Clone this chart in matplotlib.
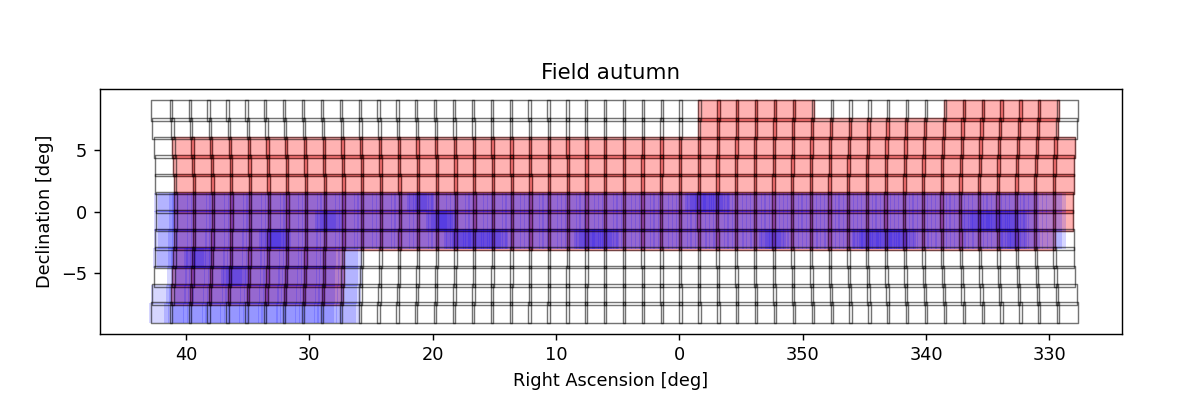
import matplotlib
matplotlib.use('Agg')
import matplotlib.pyplot as plt
import numpy as np
from matplotlib.patches import Rectangle
from matplotlib.collections import PatchCollection
from matplotlib.ticker import FuncFormatter

# --- Tile grid (RA unwrapped: negative = 360 - x) ---
ROW_DEC = [8.25, 6.75, 5.25, 3.75, 2.25, 0.75, -0.75, -2.25, -3.75, -5.25, -6.75, -8.25]
N_TILES = 49
GRID_RA0 = 5.25      # RA of the middle tile
TILE_STEP = 1.515    # on-sky spacing [deg]
TILE_SIZE = 1.70     # on-sky tile side [deg]

# red tiles: (row, first tile, last tile), tile 0 = highest RA
RED_RANGES = [
    (0, 29, 34), (0, 42, 47),
    (1, 29, 47),
    (2, 1, 48), (3, 1, 48), (4, 1, 48),
    (5, 1, 48), (6, 1, 48), (7, 1, 47),
    (8, 1, 9), (9, 1, 9), (10, 1, 9),
]

# blue visits per pointing, rows 5-7 (full width) and 8-11 (east end)
BLUE_COUNTS = {
    5: [2, 3, 3, 3, 3, 3, 3, 3, 3, 3, 3, 3, 3, 3, 5, 3, 3, 3, 3, 3, 3, 3, 3, 3, 3,
        3, 3, 3, 3, 5, 5, 3, 3, 3, 3, 3, 3, 3, 3, 3, 3, 3, 3, 3, 3, 3, 3, 3, 2],
    6: [2, 3, 3, 3, 3, 3, 3, 3, 3, 5, 3, 3, 3, 3, 3, 6, 3, 3, 3, 3, 3, 3, 3, 3, 3,
        3, 3, 3, 3, 3, 3, 3, 3, 3, 3, 3, 3, 3, 3, 3, 3, 3, 3, 3, 5, 5, 5, 3, 2],
    7: [2, 3, 3, 3, 3, 3, 6, 3, 3, 3, 3, 3, 3, 3, 3, 3, 5, 5, 5, 3, 3, 3, 3, 5, 5,
        3, 3, 3, 3, 3, 3, 3, 3, 5, 3, 3, 3, 3, 5, 5, 5, 3, 3, 3, 3, 3, 5, 3, 2],
    8: [2, 3, 5, 3, 3, 3, 3, 3, 3, 3, 2],
    9: [0, 3, 3, 3, 5, 3, 3, 3, 3, 3, 2],
    10: [1, 3, 3, 3, 3, 3, 3, 3, 3, 3, 2],
    11: [1, 3, 3, 3, 3, 3, 3, 3, 3, 3, 2],
}
BLUE_RA0 = 5.8
BLUE_STEP = 1.5
BLUE_SIZE = 1.6
BLUE_DITHER = [0.0, -0.35, 0.3, -0.15, 0.45, -0.5]   # RA offsets of successive visits


def tile_ra(row, i, ra0=GRID_RA0, step=TILE_STEP):
    c = np.cos(np.radians(ROW_DEC[row]))
    return ra0 + (N_TILES // 2 - i) * step / c


def box(ra, dec, size):
    w = size / np.cos(np.radians(dec))
    return Rectangle((ra - w / 2, dec - size / 2), w, size)


fig = plt.figure(figsize=(1178 / 128, 411 / 128), dpi=128)
ax = fig.add_axes([0.0846, 0.1873, 0.8679, 0.5954])

# red
red = []
for row, a, b in RED_RANGES:
    for i in range(a, b + 1):
        red.append(box(tile_ra(row, i), ROW_DEC[row], TILE_SIZE))
ax.add_collection(PatchCollection(red, facecolor=(1, 0, 0, 0.3),
                                  edgecolor=(1, 0, 0, 0.3), linewidth=0.8))

# blue
blue = []
for row, counts in BLUE_COUNTS.items():
    for i, n in enumerate(counts):
        ra = tile_ra(row, i, BLUE_RA0, BLUE_STEP)
        for k in range(n):
            blue.append(box(ra + BLUE_DITHER[k], ROW_DEC[row], BLUE_SIZE))
ax.add_collection(PatchCollection(blue, facecolor=(0, 0, 1, 0.16),
                                  edgecolor='none'))

# tile outlines
tiles = []
for row in range(len(ROW_DEC)):
    for i in range(N_TILES):
        tiles.append(box(tile_ra(row, i), ROW_DEC[row], TILE_SIZE))
ax.add_collection(PatchCollection(tiles, facecolor='none',
                                  edgecolor=(0, 0, 0, 0.55), linewidth=0.8))

ax.set_xlim(47.0, -35.9)
ax.set_ylim(-9.97, 9.97)
ax.set_xticks([40, 30, 20, 10, 0, -10, -20, -30])
ax.xaxis.set_major_formatter(FuncFormatter(lambda v, p: f"{int(round(v)) % 360}"))
ax.set_yticks([-5, 0, 5])
ax.set_xlabel('Right Ascension [deg]')
ax.set_ylabel('Declination [deg]')
ax.set_title('Field autumn')

fig.savefig('out.png', dpi=128)
